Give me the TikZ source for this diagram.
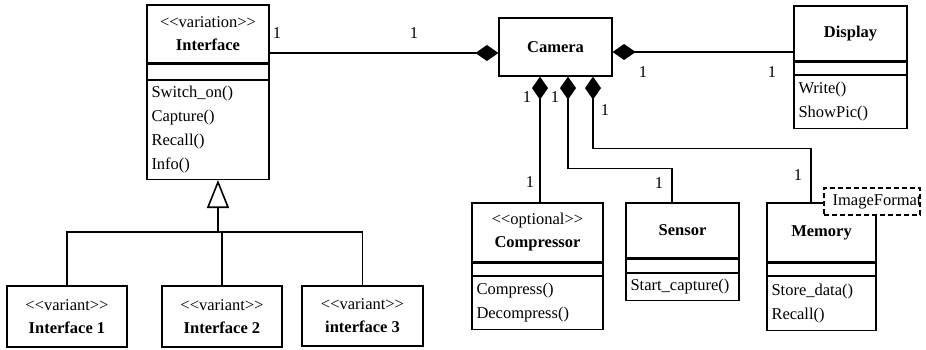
\documentclass[tikz,border=0pt]{standalone}
\usepackage{fontspec}
\setmainfont{Liberation Serif}
\usetikzlibrary{arrows.meta}
\newcommand{\fsname}[0] {\fontsize{16.5}{23}\selectfont}
\newcommand{\fsmeth}[0] {\fontsize{16.5}{24}\selectfont}
\newcommand{\st}[1] {<\kern0pt<#1>\kern0pt>}

\tikzset{
  box/.style={draw=black, line width=1.2pt, inner xsep=4.5pt, inner ysep=2pt, fill=white},
  namebox/.style={box, align=center, font=\fsname},
  attrbox/.style={box, anchor=north},
  methbox/.style={box, align=left, anchor=north, font=\fsmeth},
  sep/.style={line width=3pt},
  assoc/.style={line width=1.2pt},
  comp/.style={line width=1.2pt, {Diamond[length=23pt,width=16pt]}-},
  gen/.style={line width=1.6pt, -{Triangle[open,length=28pt,width=22pt,fill=white]}},
  mult/.style={font=\fsmeth, inner sep=0pt},
}

\begin{document}
\begin{tikzpicture}[x=1pt, y=-1pt]
        \useasboundingbox (0,0) rectangle (926,349);

        %interface
        \node[namebox, minimum width=122, minimum height=58] (iface) at (208,34) {\st{variation}\\\textbf{Interface}};
        \node[attrbox, minimum width=122, minimum height=15] (ifaceA) at (iface.south) {};
        \node[methbox, text width=113, minimum height=99] (ifaceM) at (ifaceA.south) {Switch\_on()\\Capture()\\Recall()\\Info()};
        \draw[sep] (iface.south west) -- (iface.south east);

        %camera
        \node[namebox, minimum width=113, minimum height=58] (cam) at (555.5,47) {\textbf{Camera}};

        %display
        \node[namebox, minimum width=113, minimum height=55] (disp) at (850.5,33.5) {\textbf{Display}};
        \node[attrbox, minimum width=113, minimum height=12] (dispA) at (disp.south) {};
        \node[methbox, text width=104, minimum height=53] (dispM) at (dispA.south) {Write()\\ShowPic()};
        \draw[sep] (disp.south west) -- (disp.south east);

        %compressor
        \node[namebox, minimum width=131, minimum height=59] (compr) at (537.5,232.5) {\st{optional}\\\textbf{Compressor}};
        \node[attrbox, minimum width=131, minimum height=12] (comprA) at (compr.south) {};
        \node[methbox, text width=122, minimum height=53] (comprM) at (comprA.south) {Compress()\\Decompress()};
        \draw[sep] (compr.south west) -- (compr.south east);

        %sensor
        \node[namebox, minimum width=113, minimum height=55] (sens) at (682.5,230.5) {\textbf{Sensor}};
        \node[attrbox, minimum width=113, minimum height=13] (sensA) at (sens.south) {};
        \node[methbox, text width=104, minimum height=27] (sensM) at (sensA.south) {Start\_capture()};
        \draw[sep] (sens.south west) -- (sens.south east);

        %memory
        \node[namebox, minimum width=109, minimum height=59] (mem) at (821.5,232.5) {\textbf{Memory}};
        \node[attrbox, minimum width=109, minimum height=12] (memA) at (mem.south) {};
        \node[methbox, text width=100, minimum height=54] (memM) at (memA.south) {Store\_data()\\Recall()};
        \draw[sep] (mem.south west) -- (mem.south east);

        %image format note
        \node[draw=black, dash pattern=on 5pt off 3pt, line width=1.2pt, fill=white, minimum width=96, minimum height=27] (fmt) at (872,201.5) {};
        \begin{scope}
          \clip (fmt.south west) rectangle (fmt.north east);
          \node[font=\fsmeth, anchor=west, inner sep=0pt] (fmtT) at ([xshift=9pt]fmt.west) {ImageFormat};
        \end{scope}

        %variants
        \node[namebox, minimum width=120, minimum height=61] (var1) at (67,316.5) {\st{variant}\\\textbf{Interface 1}};
        \node[namebox, minimum width=120, minimum height=61] (var2) at (222,316.5) {\st{variant}\\\textbf{Interface 2}};
        \node[namebox, minimum width=121, minimum height=60] (var3) at (362.5,316) {\st{variant}\\\textbf{interface 3}};

        %generalization
        \coordinate (gen) at (218,232);
        \draw[assoc] (var1.north) |- (var3.north |- gen) -- (var3.north);
        \draw[assoc] (var2.north) -- (var2.north |- gen);
        \draw[gen] (gen) -- (gen |- ifaceM.south);

        %composition of camera
        \coordinate (camW) at ([yshift=-6pt]cam.west);
        \coordinate (camE) at ([yshift=-5pt]cam.east);
        \coordinate (camB1) at ([xshift=-15.5pt]cam.south);
        \coordinate (camB2) at ([xshift=12.5pt]cam.south);
        \coordinate (camB3) at ([xshift=37.5pt]cam.south);
        \coordinate (sensT) at ([xshift=-10.5pt]sens.north);
        \coordinate (memT) at ([xshift=-10.5pt]mem.north);
        \draw[comp] (camW) -- (camW -| iface.east);
        \draw[comp] (camE) -- (camE -| disp.west);
        \draw[comp] (camB1) -- (camB1 |- compr.north);
        \draw[comp] (camB2) -- ++(0,92) -| (sensT);
        \draw[comp] (camB3) -- ++(0,72) -| (memT);

        %multiplicities
        \node[mult] (m1) at (277,33) {1};
        \node[mult] (m2) at (414,33) {1};
        \node[mult] (m3) at (643,72) {1};
        \node[mult] (m4) at (772,72) {1};
        \node[mult] (m5) at (527,97) {1};
        \node[mult] (m6) at (555,97) {1};
        \node[mult] (m7) at (605,110) {1};
        \node[mult] (m8) at (530,182) {1};
        \node[mult] (m9) at (659,183) {1};
        \node[mult] (m10) at (798,175) {1};
\end{tikzpicture}
\end{document}
